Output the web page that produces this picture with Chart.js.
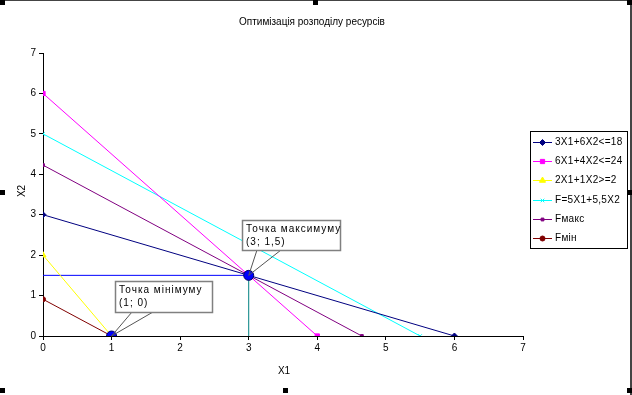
<!DOCTYPE html>
<html>
<head>
<meta charset="utf-8">
<script src="https://cdn.jsdelivr.net/npm/chart.js@4/dist/chart.umd.min.js"></script>
<style>
  html, body { margin: 0; padding: 0; background: #fff; }
  #wrap { width: 632px; height: 395px; }
</style>
</head>
<body>
<div id="wrap"><canvas id="chart" width="632" height="395"></canvas></div>
<script>
// ===== Дані =====
const titleText = 'Оптимізація розподілу ресурсів';
const xTicks = [0, 1, 2, 3, 4, 5, 6, 7];
const yTicks = [0, 1, 2, 3, 4, 5, 6, 7];

const seriesNames = ['3X1+6X2<=18', '6X1+4X2<=24', '2X1+1X2>=2', 'F=5X1+5,5X2', 'Fмакс', 'Fмін'];
const seriesX = [
    [0, 6],
    [0, 4],
    [0, 1],
    [0, 5.5],
    [0, 4.65],
    [0, 1]
];
const seriesY = [
    [3, 0],
    [6, 0],
    [2, 0],
    [5, 0],
    [4.227, 0],
    [0.909, 0]
];
const seriesColors = ['#000080', '#FF00FF', '#FFFF00', '#00FFFF', '#800080', '#800000'];
const seriesMarkers = ['rectRot', 'rect', 'triangle', 'crossRot', 'rect', 'circle'];
const markerSizes = [3, 3, 3.5, 2.5, 2, 2.5];

// допоміжні лінії до точки максимуму
const guideHX = [0, 3], guideHY = [1.5, 1.5];
const guideVX = [3, 3], guideVY = [0, 1.5];

// точки оптимуму
const optX = [1, 3];
const optY = [0, 1.5];
const optLabels = [['Точка мінімуму', '(1; 0)'], ['Точка максимуму', '(3; 1,5)']];

const FONT = '"Liberation Sans", Arial, sans-serif';

function toPoints(xs, ys) {
    return xs.map((x, i) => ({ x: x, y: ys[i] }));
}

const datasets = seriesNames.map((name, i) => ({
    label: name,
    data: toPoints(seriesX[i], seriesY[i]),
    borderColor: seriesColors[i],
    backgroundColor: seriesColors[i],
    borderWidth: 1,
    pointStyle: seriesMarkers[i],
    pointRadius: markerSizes[i],
    pointBorderWidth: 1,
    order: 2
}));
datasets.push({
    label: 'h', data: toPoints(guideHX, guideHY), borderColor: '#0000FF',
    borderWidth: 1, pointRadius: 0, order: 3
});
datasets.push({
    label: 'v', data: toPoints(guideVX, guideVY), borderColor: '#008080',
    borderWidth: 1, pointRadius: 0, order: 3
});
datasets.push({
    label: 'opt', data: toPoints(optX, optY), showLine: false,
    backgroundColor: '#0000FF', borderColor: '#000060', borderWidth: 1,
    pointRadius: 5, order: 0
});

// ===== Плагін: фон, підписи, легенда, рамка =====
const decor = {
    id: 'decor',
    beforeDraw(chart) {
        const c = chart.ctx;
        c.save();
        c.fillStyle = '#fff';
        c.fillRect(0, 0, chart.width, chart.height);
        c.restore();
    },
    afterDatasetsDraw(chart) {
        const c = chart.ctx;
        const xs = chart.scales.x, ys = chart.scales.y;
        c.save();
        c.font = '10px ' + FONT;
        c.letterSpacing = '1px';
        c.textBaseline = 'middle';
        // виноски
        const boxes = [
            { x: 115, y: 281, w: 97, h: 31, wedge: [132, 153] },
            { x: 242, y: 220, w: 98, h: 30, wedge: [257, 281] }
        ];
        boxes.forEach((b, i) => {
            const px = xs.getPixelForValue(optX[i]);
            const py = ys.getPixelForValue(optY[i]);
            c.strokeStyle = '#555';
            c.lineWidth = 1;
            c.beginPath();
            c.moveTo(b.wedge[0], b.y + b.h);
            c.lineTo(px, py);
            c.lineTo(b.wedge[1], b.y + b.h);
            c.stroke();
            c.fillStyle = '#fff';
            c.fillRect(b.x, b.y, b.w, b.h);
            c.strokeStyle = '#808080';
            c.lineWidth = 1.5;
            c.strokeRect(b.x + 0.5, b.y + 0.5, b.w, b.h);
            c.fillStyle = '#000';
            c.textAlign = 'left';
            c.fillText(optLabels[i][0], b.x + 4, b.y + 9);
            c.fillText(optLabels[i][1], b.x + 4, b.y + 22);
        });
        c.restore();
    },
    afterDraw(chart) {
        const c = chart.ctx;
        c.save();
        c.fillStyle = '#000';
        c.font = '10px ' + FONT;
        c.textBaseline = 'middle';
        c.textAlign = 'center';
        c.fillText(titleText, 312, 22);
        c.fillText('X1', 284, 371);
        c.save();
        c.translate(22, 191);
        c.rotate(-Math.PI / 2);
        c.fillText('X2', 0, 0);
        c.restore();

        // легенда
        const lx = 530, ly = 131, lw = 97, lh = 117;
        c.strokeStyle = '#000';
        c.lineWidth = 1;
        c.strokeRect(lx + 0.5, ly + 0.5, lw, lh);
        c.letterSpacing = '0.3px';
        c.textAlign = 'left';
        seriesNames.forEach((name, i) => {
            const y = Math.round(ly + 11 + i * 19.2) + 0.5;
            c.strokeStyle = seriesColors[i];
            c.fillStyle = seriesColors[i];
            c.beginPath();
            c.moveTo(lx + 3, y);
            c.lineTo(lx + 22, y);
            c.stroke();
            Chart.helpers.drawPoint(c, {
                pointStyle: seriesMarkers[i], radius: markerSizes[i], rotation: 0, borderWidth: 1
            }, lx + 12.5, y);
            c.fillStyle = '#000';
            c.fillText(name, lx + 25, y);
        });

        // рамка та маркери виділення
        c.fillStyle = '#444';
        c.fillRect(0, 0, 632, 1);
        c.fillRect(630, 0, 2, 395);
        c.fillStyle = '#000';
        [[0, 0], [313, 0], [627, 0], [0, 190], [627, 190], [0, 388], [283, 388], [627, 388]]
            .forEach(p => c.fillRect(p[0], p[1], 5, 5));
        c.restore();
    }
};

new Chart(document.getElementById('chart'), {
    type: 'line',
    data: { datasets },
    options: {
        responsive: false,
        animation: false,
        events: [],
        layout: { padding: { top: 53, right: 109, left: 0, bottom: 0 } },
        scales: {
            x: {
                type: 'linear', min: 0, max: 7,
                afterFit: s => { s.height = 59; },
                afterBuildTicks: s => { s.ticks = xTicks.map(v => ({ value: v })); },
                grid: { drawOnChartArea: false, color: '#000', tickLength: 4 },
                border: { color: '#000', width: 1 },
                ticks: { color: '#000', font: { family: FONT, size: 10 }, padding: 2, maxRotation: 0 }
            },
            y: {
                type: 'linear', min: 0, max: 7,
                afterFit: s => { s.width = 43; },
                afterBuildTicks: s => { s.ticks = yTicks.map(v => ({ value: v })); },
                grid: { drawOnChartArea: false, color: '#000', tickLength: 4 },
                border: { color: '#000', width: 1 },
                ticks: { color: '#000', font: { family: FONT, size: 10 }, padding: 3 }
            }
        },
        plugins: {
            legend: { display: false },
            tooltip: { enabled: false },
            title: { display: false }
        }
    },
    plugins: [decor]
});
</script>
</body>
</html>
